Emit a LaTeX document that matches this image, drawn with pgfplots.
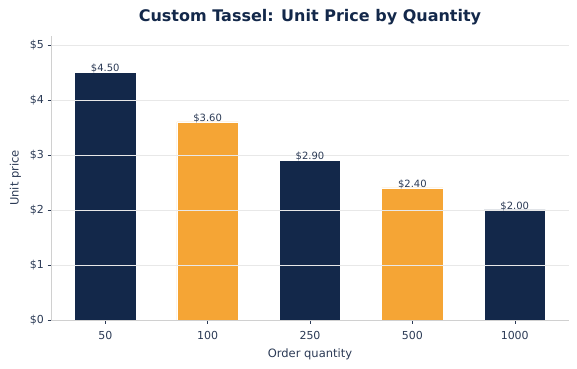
\documentclass[border=0pt]{standalone}
\usepackage{pgfplots}
\pgfplotsset{compat=1.18}
\usepackage{fontspec}
\setmainfont{DejaVu Sans}
\definecolor{navy}{HTML}{13284A}
\definecolor{amber}{HTML}{F5A535}
\definecolor{inkc}{HTML}{2B3A55}
\definecolor{gridc}{HTML}{E8E8E8}
\definecolor{spine}{HTML}{D0D0D0}
\begin{document}
\begin{tikzpicture}[x=1pt,y=1pt]
\useasboundingbox (0,0) rectangle (577,368);
\begin{axis}[
  at={(51pt,48pt)}, anchor=south west,
  scale only axis, width=518pt, height=284pt,
  xmin=-0.53, xmax=4.53, ymin=0, ymax=5.16,
  xtick={0,1,2,3,4}, xticklabels={50,100,250,500,1000},
  ytick={0,1,2,3,4,5},
  yticklabels={\$0,\$1,\$2,\$3,\$4,\$5},
  /pgf/number format/assume math mode=true,
  axis on top,
  ymajorgrids, grid style={gridc, line width=0.6pt},
  axis x line*=bottom, axis y line*=left,
  axis line style={spine, line width=0.6pt},
  tick style={inkc, line width=0.5pt},
  major tick length=3.5pt, tick align=outside,
  ticklabel style={font=\fontsize{11}{13}\selectfont, text=inkc},
  xticklabel style={yshift=-4pt},
  xlabel={Order quantity}, ylabel={Unit price},
  label style={font=\fontsize{11.5}{13}\selectfont, text=inkc},
  xlabel style={yshift=-3pt},
  ylabel style={yshift=2pt},
  ybar, bar width=0.6, bar shift=0pt,
  nodes near coords={\$\pgfmathprintnumber[fixed,fixed zerofill,precision=2]{\pgfplotspointmeta}},
  nodes near coords style={font=\fontsize{10}{11}\selectfont, text=inkc, inner sep=0pt, yshift=-1pt, anchor=south},
]
\addplot[fill=navy, draw=white, line width=0.5pt] coordinates {(0,4.50) (2,2.90) (4,2.00)};
\addplot[fill=amber, draw=white, line width=0.5pt] coordinates {(1,3.60) (3,2.40)};
\end{axis}
\node[font=\bfseries\fontsize{16}{19}\selectfont, text=navy] at (310pt,351pt) {Custom Tassel: Unit Price by Quantity};
\end{tikzpicture}
\end{document}
